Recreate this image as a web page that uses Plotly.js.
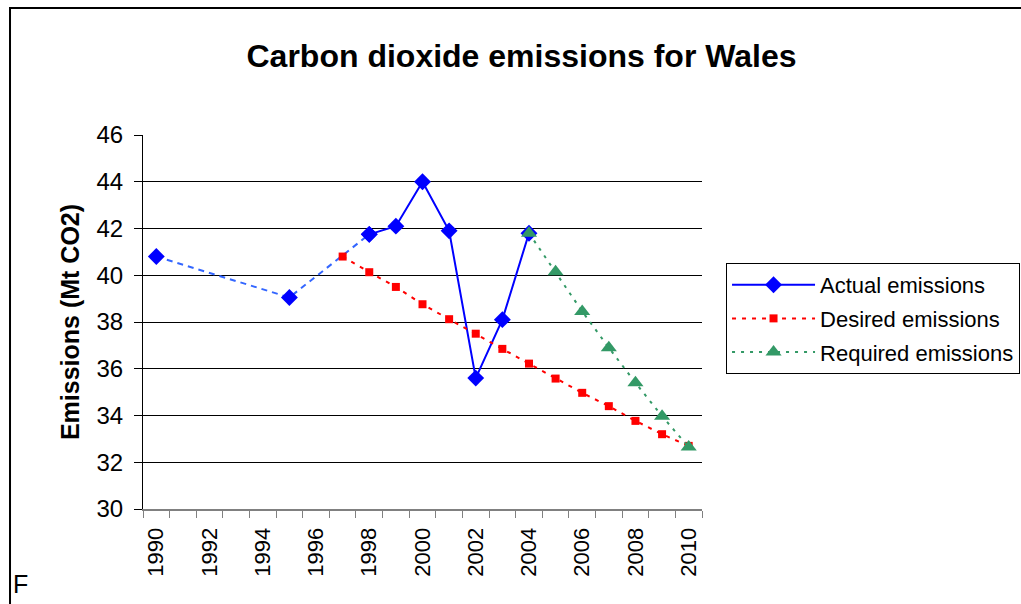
<!DOCTYPE html>
<html>
<head>
<meta charset="utf-8">
<script src="https://cdn.plot.ly/plotly-3.0.1.min.js"></script>
<style>
html,body{margin:0;padding:0;background:#fff;}
#chart{width:1021px;height:604px;}
</style>
</head>
<body>
<div id="chart"></div>
<script>
// Data
const actualYears = [1998, 1999, 2000, 2001, 2002, 2003, 2004];
const actualValues = [41.75, 42.1, 44.0, 41.9, 35.6, 38.1, 41.8];
const earlyYears = [1990, 1995, 1998];
const earlyValues = [40.8, 39.05, 41.75];
const desiredYears = [1997, 1998, 1999, 2000, 2001, 2002, 2003, 2004, 2005, 2006, 2007, 2008, 2009, 2010];
const desiredValues = [40.8, 40.13, 39.5, 38.76, 38.12, 37.5, 36.85, 36.22, 35.58, 34.97, 34.4, 33.77, 33.2, 32.7];
const requiredYears = [2004, 2005, 2006, 2007, 2008, 2009, 2010];
const requiredValues = [41.8, 40.15, 38.45, 36.9, 35.4, 33.97, 32.65];
const xTickLabels = ['1990','1992','1994','1996','1998','2000','2002','2004','2006','2008','2010'];
const xTickVals = xTickLabels.map(Number);

const FONT = 'Liberation Sans, Arial, sans-serif';

const traces = [
  {
    x: earlyYears, y: earlyValues, type: 'scatter', mode: 'lines+markers',
    line: {color: '#3366FF', width: 2, dash: '6px,5px'},
    marker: {symbol: 'diamond', size: 13, color: '#0000FF'},
    showlegend: false, hoverinfo: 'skip'
  },
  {
    x: actualYears, y: actualValues, type: 'scatter', mode: 'lines+markers',
    name: 'Actual emissions', legendgroup: 'a',
    line: {color: '#0000FF', width: 2},
    marker: {symbol: 'diamond', size: 13, color: '#0000FF'}
  },
  {
    x: desiredYears, y: desiredValues, type: 'scatter', mode: 'lines+markers',
    name: 'Desired emissions', legendgroup: 'b',
    line: {color: '#FF0000', width: 2, dash: '4px,6px'},
    marker: {symbol: 'square', size: 8, color: '#FF0000'}
  },
  {
    x: requiredYears, y: requiredValues, type: 'scatter', mode: 'lines+markers',
    name: 'Required emissions', legendgroup: 'c',
    line: {color: '#339966', width: 2, dash: '3px,6px'},
    marker: {symbol: 'triangle-up', size: 14, color: '#339966'}
  }
];

const layout = {
  width: 1021, height: 604,
  margin: {l: 143, r: 319, t: 135, b: 95, pad: 0},
  paper_bgcolor: '#ffffff', plot_bgcolor: '#ffffff',
  font: {family: FONT, color: '#000000', size: 22},
  title: {
    text: '<b>Carbon dioxide emissions for Wales</b>',
    font: {family: FONT, size: 32, color: '#000000'},
    x: 0.5108, xanchor: 'center', xref: 'container',
    y: 0.907, yanchor: 'middle', yref: 'container'
  },
  xaxis: {
    range: [1989.5, 2010.5],
    tickvals: xTickVals, ticktext: xTickLabels,
    tickangle: -90, ticks: '', ticklen: 0,
    ticklabelstandoff: 8,
    tickfont: {family: FONT, size: 22, color: '#000000'},
    showgrid: false, zeroline: false,
    showline: true, linecolor: '#808080', linewidth: 2,
    minor: {ticks: 'outside', ticklen: 7, tick0: 1989.5, dtick: 1, tickcolor: '#808080', tickwidth: 1, showgrid: false}
  },
  yaxis: {
    range: [30, 46], dtick: 2, tick0: 30,
    ticks: 'outside', ticklen: 8, tickcolor: '#000000',
    ticklabelstandoff: 6,
    tickfont: {family: FONT, size: 24, color: '#000000'},
    showgrid: true, gridcolor: '#000000', gridwidth: 1,
    zeroline: false, showline: true, linecolor: '#000000', linewidth: 1,
    title: {text: '<b>Emissions (Mt CO2)</b>', font: {family: FONT, size: 25, color: '#000000'}, standoff: 9}
  },
  legend: {
    xref: 'container', yref: 'container',
    x: 0.7111, xanchor: 'left', y: 0.5646, yanchor: 'top',
    bordercolor: '#000000', borderwidth: 1, bgcolor: '#ffffff',
    font: {family: FONT, size: 22, color: '#000000'},
    itemwidth: 83, tracegroupgap: 2
  },
  shapes: [
    {type: 'rect', xref: 'paper', yref: 'paper', x0: -0.2379, x1: 1.6, y0: -0.4, y1: 1.3396,
     line: {color: '#000000', width: 2}, fillcolor: 'rgba(0,0,0,0)'}
  ],
  annotations: [
    {text: 'F', xref: 'paper', yref: 'paper', x: -0.2361, y: -0.2005, xanchor: 'left', yanchor: 'middle',
     showarrow: false, font: {family: FONT, size: 25, color: '#000000'}}
  ]
};

Plotly.newPlot('chart', traces, layout, {displayModeBar: false, staticPlot: true});
</script>
</body>
</html>
